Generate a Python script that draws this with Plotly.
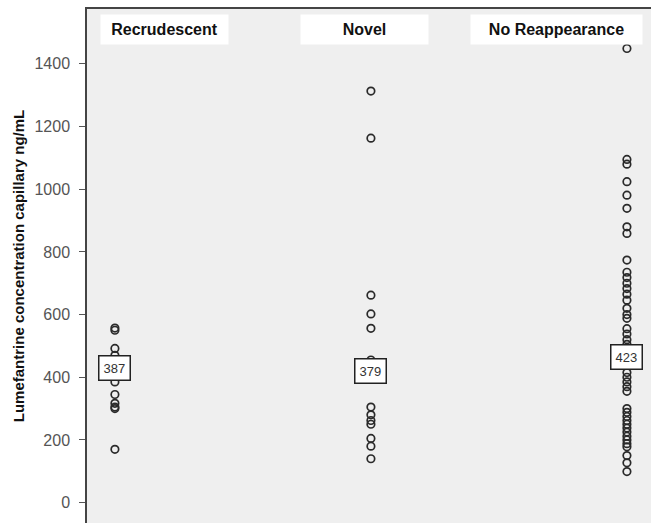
import plotly.graph_objects as go

categories = ["Recrudescent", "Novel", "No Reappearance"]
recrudescent = [557, 550, 492, 470, 385, 345, 317, 305, 300, 170]
novel = [1313, 1163, 662, 602, 556, 455, 305, 280, 262, 250, 205, 180, 140]
no_reappearance = [1449, 1095, 1080, 1024, 981, 939, 880, 859, 774, 735, 718, 700,
                   683, 665, 646, 620, 600, 588, 555, 538, 520, 505, 470, 445, 415,
                   400, 385, 370, 355, 300, 288, 275, 262, 250, 238, 225, 212, 200,
                   188, 178, 150, 127, 99]
medians = [387, 379, 423]
y_ticks = [0, 200, 400, 600, 800, 1000, 1200, 1400]
y_title = "Lumefantrine concentration capillary ng/mL"

series = [recrudescent, novel, no_reappearance]

W, H = 651, 523
PL, PT = 87, 9
PW, PH = W - PL, H - PT

fig = go.Figure()
for cat, vals in zip(categories, series):
    fig.add_trace(go.Scatter(
        x=[cat] * len(vals), y=vals, mode="markers",
        marker=dict(symbol="circle-open", size=7.5, color="#2a2a2a",
                    line=dict(width=1.7, color="#2a2a2a")),
        showlegend=False, hoverinfo="y"))

# median labels
for cat, m in zip(categories, medians):
    fig.add_annotation(x=cat, y=m, xref="x", yref="y", text=str(m),
                       showarrow=False, yanchor="bottom", xanchor="center",
                       font=dict(family="Liberation Sans, Arial", size=13, color="#333"),
                       bgcolor="white", bordercolor="#222", borderwidth=1.5,
                       borderpad=4)

# header boxes (centres and widths in pixels)
headers = [(164.5, 127), (364.5, 127), (556.5, 171)]
for cat, (cx, w) in zip(categories, headers):
    fig.add_annotation(x=(cx - PL) / PW, y=1 - (29.5 - PT) / PH,
                       xref="paper", yref="paper",
                       text="<b>%s</b>" % cat, showarrow=False,
                       xanchor="center", yanchor="middle",
                       width=w - 4, height=25, borderpad=2,
                       font=dict(family="Liberation Sans, Arial", size=16, color="#111"),
                       bgcolor="white")

fig.update_layout(
    width=W, height=H,
    margin=dict(l=PL, r=0, t=PT, b=0, autoexpand=False),
    paper_bgcolor="white", plot_bgcolor="#efefef",
    xaxis=dict(type="category", categoryarray=categories, range=[-0.109, 2.094],
               showticklabels=False, ticks="", showgrid=False, zeroline=False,
               automargin=False,
               showline=True, side="top", linecolor="#444", linewidth=1.5),
    yaxis=dict(range=[-65, 1575], tickvals=y_ticks, showgrid=False, zeroline=False,
               automargin=False,
               showline=True, linecolor="#444", linewidth=1.5,
               ticks="outside", ticklen=6, tickwidth=1, tickcolor="#555",
               ticklabelstandoff=6,
               tickfont=dict(family="Liberation Sans, Arial", size=16, color="#555"),
               title=dict(text="<b>%s</b>" % y_title,
                          font=dict(family="Liberation Sans, Arial", size=15, color="#111"),
                          standoff=6)),
)

fig.write_html("out.html",
               config={"displayModeBar": False},
               post_script="document.body.style.margin='0';"
                           "document.documentElement.style.overflow='hidden';"
                           "document.body.style.overflow='hidden';"
                           "window.scrollTo(0,0);")
